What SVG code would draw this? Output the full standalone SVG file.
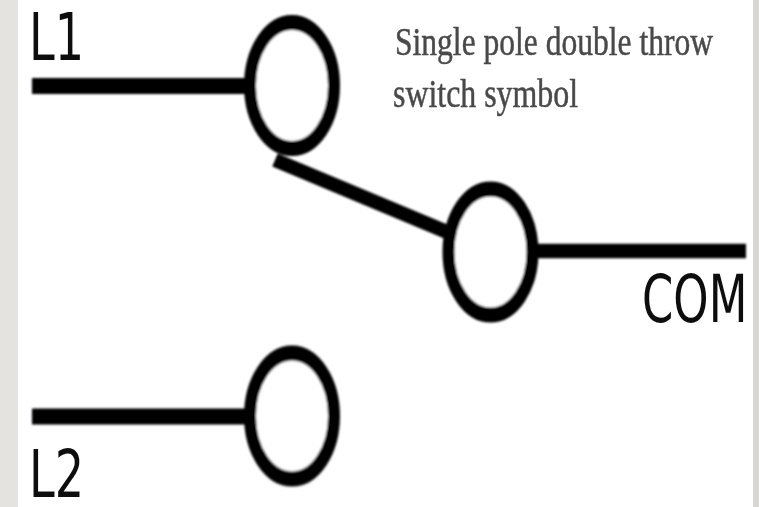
<svg xmlns="http://www.w3.org/2000/svg" width="759" height="507" viewBox="0 0 759 507">
<defs>
<filter id="soft" x="-5%" y="-5%" width="110%" height="110%"><feGaussianBlur stdDeviation="0.9"/></filter>
<filter id="softer" x="-5%" y="-5%" width="110%" height="110%"><feGaussianBlur stdDeviation="0.6"/></filter>
</defs>
<style>
.wire{stroke:#000;stroke-width:16;fill:none}
.thin{stroke-width:14.500}
.arm{stroke-width:14}
.ring{stroke:#000;stroke-width:12;fill:#fff}
.lbl{font-family:"DejaVu Sans",sans-serif;font-size:66px;fill:#111}
.cap{font-family:"Liberation Serif",serif;font-size:40px;fill:#4a4a4a;stroke:#4a4a4a;stroke-width:.5}
</style>
<rect width="759" height="507" fill="#fff"/>
<rect id="band-left" x="0" y="0" width="18" height="507" fill="#e5e3df"/>
<rect id="band-right" x="753" y="0" width="6" height="507" fill="#d8d6d0"/>
<g filter="url(#soft)">
<g id="connectors">
<line class="wire" x1="32" y1="86" x2="250" y2="86"/>
<line class="wire" x1="32" y1="416.500" x2="250" y2="416.500"/>
<line class="wire thin" x1="535" y1="251" x2="746" y2="251"/>
</g>
<g id="node-l1"><ellipse class="ring" transform="translate(292 85.500) scale(1 1.26)" rx="42" ry="50"/></g>
<g id="node-com"><ellipse class="ring" transform="translate(490.500 252) scale(1 1.26)" rx="42" ry="50"/></g>
<g id="node-l2"><ellipse class="ring" transform="translate(292 416) scale(1 1.26)" rx="42" ry="50"/></g>
<g id="switch-arm"><line class="wire arm" x1="275" y1="160" x2="447" y2="232"/></g>
</g>
<g filter="url(#softer)">
<text class="lbl" transform="translate(29 60) scale(.7 1)">L1</text>
<text class="lbl" transform="translate(29 497) scale(.7 1)">L2</text>
<text class="lbl" transform="translate(642 322) scale(.68 1)">COM</text>
<text class="cap" transform="translate(395 55) scale(.789 1)">Single pole double throw</text>
<text class="cap" transform="translate(393 107) scale(.797 1)">switch symbol</text>
</g>
</svg>
